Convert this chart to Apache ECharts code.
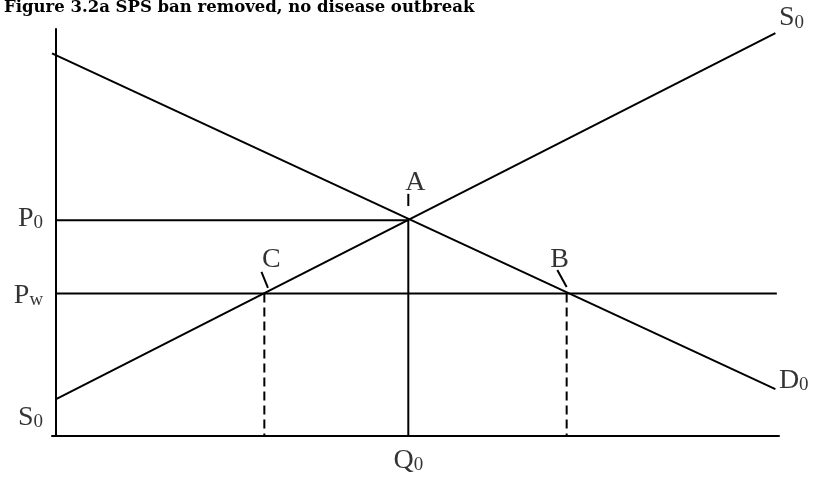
<!DOCTYPE html>
<html>
<head>
<meta charset="utf-8">
<script src="https://cdn.jsdelivr.net/npm/echarts@6/dist/echarts.min.js"></script>
<style>
  html, body { margin: 0; padding: 0; background: #fff; }
  #chart { width: 815px; height: 481px; }
</style>
</head>
<body>
<div id="chart"></div>
<script>
// Supply and demand schedules: quantity / price pairs at each end
const supplyQ = [0, 100];
const supplyP = [9, 99];
const demandQ = [-0.5, 100];
const demandP = [94, 11.5];

// Prices: closed-market equilibrium and world price
const P0 = 53;
const PW = 35;

// Quantities: equilibrium, domestic supply (C) and demand (B) at the world price
const Q0 = 49;
const QC = 29;
const QB = 71;
const QW_END = 100.2;

// Axis extents
const Q_MIN = -0.5, Q_MAX = 100.5;
const P_MIN = 0, P_MAX = 100;

const TITLE = 'Figure 3.2a SPS ban removed, no disease outbreak';

const SERIF = '"Liberation Serif", "Times New Roman", serif';
const INK = '#000';

const rich = {
  m: { fontFamily: SERIF, fontSize: 28, color: INK, lineHeight: 28, verticalAlign: 'top', padding: [0, 0, 6, 0] },
  s: { fontFamily: SERIF, fontSize: 19, color: INK, lineHeight: 19, verticalAlign: 'bottom' },
  p: { fontFamily: SERIF, fontSize: 28, color: INK, lineHeight: 28 }
};

function sym(main, sub) {
  return sub ? `{m|${main}}{s|${sub}}` : `{p|${main}}`;
}

function pt(q, p, text, position, offset, distance) {
  return {
    value: [q, p],
    label: {
      show: true,
      formatter: text,
      position: position,
      offset: offset || [0, 0],
      distance: distance == null ? 5 : distance,
      color: INK,
      rich: rich
    }
  };
}

function seg(name, qs, ps, dashed) {
  return {
    name: name,
    type: 'line',
    data: qs.map((q, i) => [q, ps[i]]),
    symbol: 'none',
    silent: true,
    animation: false,
    lineStyle: { color: INK, width: 2, type: dashed ? [9, 5] : 'solid' },
    z: 3
  };
}

const chart = echarts.init(document.getElementById('chart'), null, { renderer: 'canvas' });

chart.setOption({
  backgroundColor: '#fff',
  animation: false,
  grid: { left: 52, right: 36, top: 29, bottom: 45 },
  xAxis: {
    type: 'value', min: Q_MIN, max: Q_MAX,
    axisLine: { show: true, onZero: true, lineStyle: { color: INK, width: 2 } },
    axisTick: { show: false }, axisLabel: { show: false }, splitLine: { show: false }
  },
  yAxis: {
    type: 'value', min: P_MIN, max: P_MAX,
    axisLine: { show: true, onZero: true, lineStyle: { color: INK, width: 2 } },
    axisTick: { show: false }, axisLabel: { show: false }, splitLine: { show: false }
  },
  graphic: [{
    type: 'text', left: 4, top: -1,
    style: { text: TITLE, font: 'bold 16.5px "DejaVu Serif", serif', fill: INK }
  }],
  series: [
    seg('S0', supplyQ, supplyP),
    seg('D0', demandQ, demandP),
    seg('P0 level', [0, Q0], [P0, P0]),
    seg('Pw level', [0, QW_END], [PW, PW]),
    seg('Q0 drop', [Q0, Q0], [P0, P_MIN]),
    seg('C drop', [QC, QC], [PW, P_MIN], true),
    seg('B drop', [QB, QB], [PW, P_MIN], true),
    seg('A leader', [Q0, Q0], [P0 + 3.5, P0 + 6.5]),
    seg('C leader', [QC - 0.4, QC + 0.5], [PW + 5.3, PW + 1.4]),
    seg('B leader', [QB - 1.3, QB], [PW + 5.8, PW + 1.6]),
    {
      name: 'labels',
      type: 'scatter',
      symbolSize: 1,
      silent: true,
      itemStyle: { color: 'rgba(0,0,0,0)' },
      z: 5,
      data: [
        pt(0, P0, sym('P', '0'), 'left', [0, -2], 12),
        pt(0, PW, sym('P', 'w'), 'left', [0, 2], 12),
        pt(supplyQ[0], supplyP[0], sym('S', '0'), 'left', [0, 18], 12),
        pt(supplyQ[1], supplyP[1], sym('S', '0'), 'right', [0, -15], 3),
        pt(demandQ[1], demandP[1], sym('D', '0'), 'right', [0, -9], 3),
        pt(Q0, P_MIN, sym('Q', '0'), 'bottom', [0, 0], 10),
        pt(Q0, P0, sym('A'), 'inside', [7, -38]),
        pt(QC, PW, sym('C'), 'inside', [7, -34]),
        pt(QB, PW, sym('B'), 'inside', [-7, -34])
      ]
    }
  ]
});
</script>
</body>
</html>
